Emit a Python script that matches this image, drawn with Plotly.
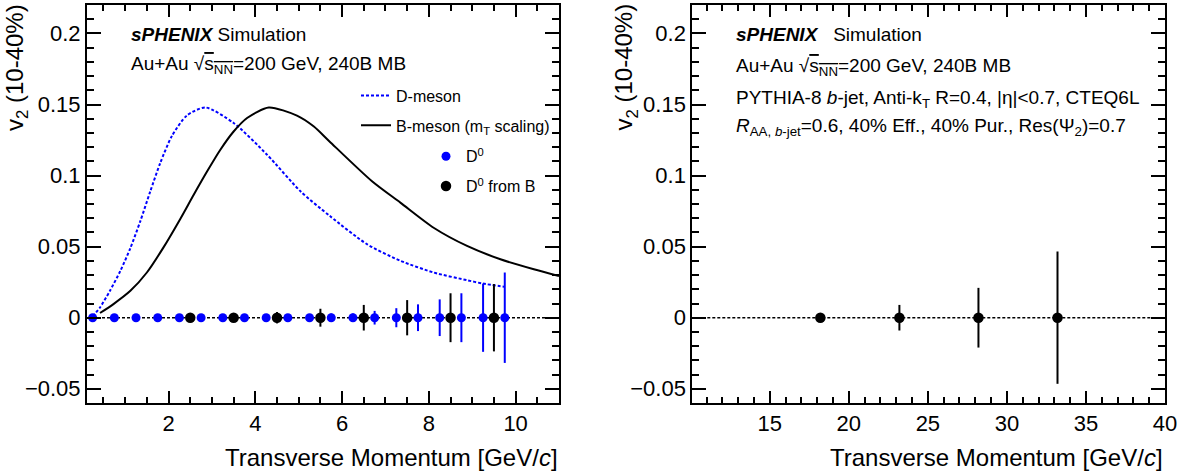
import plotly.graph_objects as go

# ---------------- data ----------------
# D-meson v2 curve (blue dotted)
d_curve_pt = [0.25, 0.42, 0.65, 0.89, 1.12, 1.35, 1.58, 1.81, 2.08, 2.42, 2.85, 3.50, 4.27, 5.04, 5.72, 6.58, 7.35, 8.11, 8.88, 9.25, 9.75]
d_curve_v2 = [0.001, 0.0072, 0.019, 0.033, 0.049, 0.068, 0.089, 0.109, 0.128, 0.1422, 0.1479, 0.137, 0.1147, 0.089, 0.0715, 0.0516, 0.040, 0.0318, 0.0264, 0.024, 0.0217]

# B-meson v2 curve (black solid, mT scaling)
b_curve_pt = [0.42, 0.73, 1.12, 1.50, 1.88, 2.27, 2.58, 2.89, 3.19, 3.50, 3.81, 4.31, 4.96, 5.35, 5.71, 6.69, 7.35, 8.11, 8.88, 9.65, 10.42, 11.0]
b_curve_v2 = [0.0033, 0.0096, 0.0189, 0.0318, 0.0493, 0.0695, 0.0865, 0.103, 0.118, 0.131, 0.1405, 0.1479, 0.1422, 0.1345, 0.124, 0.096, 0.0808, 0.0633, 0.0505, 0.0411, 0.0341, 0.0294]

# D0 projected points
d0_pt = [0.25, 0.75, 1.25, 1.75, 2.25, 2.75, 3.25, 3.75, 4.25, 4.75,
         5.25, 5.75, 6.25, 6.75, 7.25, 7.75, 8.25, 8.75, 9.25, 9.75]
d0_v2 = [0.0] * 20
d0_err = [0.0005, 0.0005, 0.0006, 0.0007, 0.0008, 0.001, 0.0012, 0.0014, 0.0017, 0.002,
          0.0025, 0.003, 0.003, 0.0048, 0.0067, 0.0094, 0.0129, 0.0172, 0.024, 0.0318]

# D0 from B projected points
bd0_pt = [2.5, 3.5, 4.5, 5.5, 6.5, 7.5, 8.5, 9.5]
bd0_v2 = [0.0] * 8
bd0_err = [0.002, 0.003, 0.004, 0.0063, 0.009, 0.0124, 0.0172, 0.0237]

# b-jet projected points (right panel)
bjet_pt = [18.2, 23.2, 28.2, 33.2]
bjet_v2 = [0.0, 0.0, 0.0, 0.0]
bjet_err = [0.001, 0.009, 0.021, 0.0465]

FONT = "Liberation Sans, Arial, Helvetica, sans-serif"
BLUE = "#0000ff"

fig = go.Figure()

fig.add_trace(go.Scatter(x=d_curve_pt, y=d_curve_v2, mode="lines", name="D-meson",
                         line=dict(color=BLUE, width=2, dash="3px,2px", shape="spline", smoothing=0.7),
                         xaxis="x", yaxis="y", legend="legend", legendgroup="a"))
fig.add_trace(go.Scatter(x=b_curve_pt, y=b_curve_v2, mode="lines", name="B-meson (m<sub>T</sub> scaling)",
                         line=dict(color="black", width=2, shape="spline", smoothing=0.7),
                         xaxis="x", yaxis="y", legend="legend", legendgroup="b"))
fig.add_trace(go.Scatter(x=d0_pt, y=d0_v2, mode="markers", name="D<sup>0</sup>",
                         marker=dict(color=BLUE, size=9),
                         error_y=dict(type="data", array=d0_err, visible=True, thickness=2, width=0, color=BLUE),
                         xaxis="x", yaxis="y", legend="legend2", legendgroup="c"))
fig.add_trace(go.Scatter(x=bd0_pt, y=bd0_v2, mode="markers", name="D<sup>0</sup> from B",
                         marker=dict(color="black", size=10.5),
                         error_y=dict(type="data", array=bd0_err, visible=True, thickness=2, width=0, color="black"),
                         xaxis="x", yaxis="y", legend="legend2", legendgroup="d"))
fig.add_trace(go.Scatter(x=bjet_pt, y=bjet_v2, mode="markers", showlegend=False,
                         marker=dict(color="black", size=10.5),
                         error_y=dict(type="data", array=bjet_err, visible=True, thickness=2, width=0, color="black"),
                         xaxis="x2", yaxis="y2"))

# zero reference lines
for xr, yr in (("x domain", "y"), ("x2 domain", "y2")):
    fig.add_shape(type="line", xref=xr, yref=yr, x0=0, x1=1, y0=0, y1=0,
                  line=dict(color="black", width=1.5, dash="3px,2px"), layer="below")

W, H = 1183, 475
ML, MR, MT, MB = 87, 18, 3, 72
PW = W - ML - MR
PH = H - MT - MB


def px(xp):
    return (xp - ML) / PW


def py(yp):
    return (H - MB - yp) / PH


common_axis = dict(showline=True, linewidth=2, linecolor="black", mirror="ticks",
                   ticks="inside", tickcolor="black", tickwidth=1.5,
                   tickfont=dict(family=FONT, size=22, color="black"),
                   showgrid=False, zeroline=False)

yaxis_cfg = dict(common_axis, range=[-0.06, 0.22], dtick=0.05, tick0=0, ticklen=14,
                 minor=dict(dtick=0.01, ticklen=7, ticks="inside", tickcolor="black", tickwidth=1.5, showgrid=False))

fig.update_layout(
    width=W, height=H,
    margin=dict(l=ML, r=MR, t=MT, b=MB),
    paper_bgcolor="white", plot_bgcolor="white",
    font=dict(family=FONT, color="black"),
    xaxis=dict(common_axis, domain=[0, px(559)], range=[0.12, 11], dtick=2, tick0=0, ticklen=12,
               minor=dict(dtick=0.5, ticklen=6, ticks="inside", tickcolor="black", tickwidth=1.5, showgrid=False),
               anchor="y"),
    yaxis=dict(yaxis_cfg, anchor="x", domain=[0, 1]),
    xaxis2=dict(common_axis, domain=[px(692.3), 1], range=[10.1, 40], dtick=5, tick0=0, ticklen=12,
                minor=dict(dtick=1, ticklen=6, ticks="inside", tickcolor="black", tickwidth=1.5, showgrid=False),
                anchor="y2"),
    yaxis2=dict(yaxis_cfg, anchor="x2", domain=[0, 1]),
    legend=dict(x=px(356), y=py(77), xanchor="left", yanchor="top",
                font=dict(family=FONT, size=16, color="black"), bgcolor="rgba(0,0,0,0)",
                tracegroupgap=6),
    legend2=dict(x=px(426), y=py(138), xanchor="left", yanchor="top",
                 font=dict(family=FONT, size=16, color="black"), bgcolor="rgba(0,0,0,0)",
                 tracegroupgap=6),
)

ann_font = dict(family=FONT, size=19, color="black")
title_font = dict(family=FONT, size=24, color="black")
annotations = [
    # left panel text
    dict(text="<b><i>sPHENIX</i></b> Simulation", x=px(128.6), y=py(33)),
    dict(text="Au+Au √<span style='text-decoration:overline'>s<sub>NN</sub></span>=200 GeV, 240B MB",
         x=px(128.6), y=py(63)),
    # right panel text
    dict(text="<b><i>sPHENIX</i></b>\u00a0\u00a0\u00a0Simulation", x=px(734), y=py(33)),
    dict(text="Au+Au √<span style='text-decoration:overline'>s<sub>NN</sub></span>=200 GeV, 240B MB",
         x=px(734), y=py(65)),
    dict(text="PYTHIA-8 <i>b</i>-jet, Anti-k<sub>T</sub> R=0.4, |η|&lt;0.7, CTEQ6L", x=px(734), y=py(97)),
    dict(text="<i>R</i><sub>AA, <i>b</i>-jet</sub>=0.6, 40% Eff., 40% Pur., Res(Ψ<sub>2</sub>)=0.7",
         x=px(734), y=py(126)),
]
for a in annotations:
    a.update(xref="paper", yref="paper", xanchor="left", yanchor="middle", showarrow=False, font=ann_font)

# axis titles
for xr in (px(560), 1.0):
    annotations.append(dict(text="Transverse Momentum [GeV/<i>c</i>]", xref="paper", yref="paper",
                            x=xr, y=py(458), xanchor="right", yanchor="middle", showarrow=False,
                            font=title_font))
for xc in (px(16.5), px(626)):
    annotations.append(dict(text="v<sub>2</sub> (10-40%)", xref="paper", yref="paper",
                            x=xc, y=py(0), xanchor="center", yanchor="top", textangle=-90,
                            showarrow=False, font=title_font))

fig.update_layout(annotations=annotations)

fig.write_html("out.html", config={"displayModeBar": False},
               post_script="document.body.style.margin='0px';document.body.style.overflow='hidden';")
